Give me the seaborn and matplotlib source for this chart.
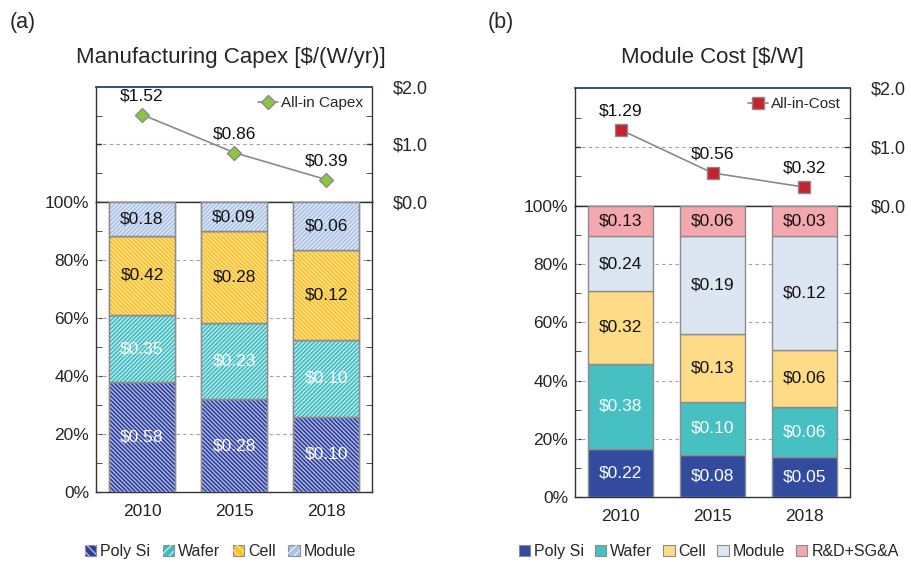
import numpy as np
import pandas as pd
import matplotlib.pyplot as plt
import seaborn as sns
from matplotlib.patches import Patch
from matplotlib.legend_handler import HandlerTuple
from matplotlib.ticker import MultipleLocator, FixedLocator, FuncFormatter

# Data
years = ['2010', '2015', '2018']

# (a) Manufacturing capex [$/(W/yr)]
capex_poly = [0.58, 0.28, 0.10]
capex_wafer = [0.35, 0.23, 0.10]
capex_cell = [0.42, 0.28, 0.12]
capex_module = [0.18, 0.09, 0.06]
capex_total = [1.52, 0.86, 0.39]
# segment heights in % (as drawn)
capex_poly_pct = [37.9, 32.0, 26.0]
capex_wafer_pct = [23.1, 26.4, 26.5]
capex_cell_pct = [27.4, 31.5, 31.1]
capex_module_pct = [11.6, 10.1, 16.4]

# (b) Module cost [$/W]
cost_poly = [0.22, 0.08, 0.05]
cost_wafer = [0.38, 0.10, 0.06]
cost_cell = [0.32, 0.13, 0.06]
cost_module = [0.24, 0.19, 0.12]
cost_rd = [0.13, 0.06, 0.03]
cost_total = [1.29, 0.56, 0.32]
cost_poly_pct = [16.6, 14.3, 13.7]
cost_wafer_pct = [29.2, 18.5, 17.3]
cost_cell_pct = [25.0, 23.3, 19.6]
cost_module_pct = [18.8, 33.5, 39.0]
cost_rd_pct = [10.4, 10.4, 10.4]

sns.set_style("ticks")
plt.rcParams['font.family'] = ['Liberation Sans', 'DejaVu Sans']
plt.rcParams['hatch.linewidth'] = 0.9

fig = plt.figure(figsize=(9.11, 5.62), dpi=100)

edge_gray = '#8c8c8c'
grid_kw = dict(color='#a0a0a0', linestyle=(0, (3, 3)), linewidth=0.8)


def draw_panel(rect_top, rect_bar, names, vals, pcts, colors, hatches, hatch_cols,
               txt_cols, total, marker, mcolor, msize, line_label):
    x = np.arange(len(years))
    ax_t = fig.add_axes(rect_top)
    ax_b = fig.add_axes(rect_bar)

    # stacked 100% bars
    bottom = np.zeros(len(years))
    for name, v, p, c, h, hc, tc in zip(names, vals, pcts, colors, hatches, hatch_cols, txt_cols):
        p = np.array(p)
        ax_b.bar(x, p, 0.71, bottom=bottom, color=c, edgecolor=edge_gray, linewidth=1.0, zorder=3)
        if h:
            ax_b.bar(x, p, 0.71, bottom=bottom, color='none', edgecolor=hc, linewidth=0, hatch=h, zorder=3)
            ax_b.bar(x, p, 0.71, bottom=bottom, color='none', edgecolor=edge_gray, linewidth=1.0, zorder=3)
        for xi, bi, pi, vi in zip(x, bottom, p, v):
            ax_b.text(xi, bi + pi / 2, f'${vi:.2f}', ha='center', va='center',
                      fontsize=12.5, color=tc, zorder=5)
        bottom = bottom + p

    ax_b.set_xlim(-0.5, 2.5)
    ax_b.set_ylim(0, 100)
    ax_b.set_xticks(x)
    ax_b.set_xticklabels(years, fontsize=12.5, color='#222222')
    ax_b.tick_params(axis='x', length=0, pad=9)
    ax_b.yaxis.set_major_locator(MultipleLocator(20))
    ax_b.yaxis.set_minor_locator(MultipleLocator(10))
    ax_b.yaxis.set_major_formatter(FuncFormatter(lambda v, _: f'{v:.0f}%'))
    ax_b.tick_params(axis='y', which='both', direction='in', right=True, length=4,
                     labelsize=12.5, pad=5, color='#333333')
    for gy in [20, 40, 60, 80]:
        ax_b.axhline(gy, zorder=1, **grid_kw)
    for s in ax_b.spines.values():
        s.set_color('#333333')
        s.set_linewidth(1.0)

    # top line panel
    df = pd.DataFrame({'x': x, 'total': total})
    sns.lineplot(data=df, x='x', y='total', ax=ax_t, color='#8a8a8a', linewidth=1.2,
                 marker=marker, markersize=msize, markerfacecolor=mcolor,
                 markeredgecolor='#8a8a8a', markeredgewidth=1.0, label=line_label, zorder=4)
    for xi, ti in zip(x, total):
        ax_t.annotate(f'${ti:.2f}', (xi, ti), xytext=(0, 8), textcoords='offset points',
                      ha='center', va='bottom', fontsize=12.5, color='#111111')
    ax_t.axhline(1.0, zorder=1, **grid_kw)
    ax_t.set_xlim(-0.5, 2.5)
    ax_t.set_ylim(0, 2)
    ax_t.set_xticks([])
    ax_t.set_xlabel('')
    ax_t.set_ylabel('')
    ax_t.yaxis.set_major_locator(FixedLocator([0, 1, 2]))
    ax_t.yaxis.set_minor_locator(FixedLocator([0.5, 1.5]))
    ax_t.yaxis.tick_right()
    ax_t.yaxis.set_major_formatter(FuncFormatter(lambda v, _: f'${v:.1f}'))
    ax_t.tick_params(axis='y', which='major', length=0, labelsize=13, pad=15)
    ax_t.tick_params(axis='y', which='minor', direction='in', left=True, right=True,
                     length=4, color='#333333')
    ax_t.tick_params(axis='y', which='major', left=False)
    for yy in [1.0]:
        ax_t.plot([-0.5, -0.45], [yy, yy], color='#333333', lw=1, clip_on=False)
        ax_t.plot([2.45, 2.5], [yy, yy], color='#333333', lw=1, clip_on=False)
    for s in ax_t.spines.values():
        s.set_color('#333333')
        s.set_linewidth(1.0)
    ax_t.spines['top'].set_color('#2a3c7d')
    ax_t.spines['top'].set_linewidth(1.3)
    ax_t.legend(loc='upper right', frameon=False, fontsize=11, handlelength=1.3,
                handletextpad=0.2, borderaxespad=0.2)
    return ax_t, ax_b


# (a)
a_names = ['Poly Si', 'Wafer', 'Cell', 'Module']
a_colors = ['#2f3f98', '#3fbcc0', '#f8c22c', '#a9c1e8']
a_hatches = ['\\' * 8, '/' * 8, '\\' * 8, '/' * 8]
a_hatch_cols = ['#b9c2ea', '#c8eeef', '#fde29a', '#e6edf9']
a_txt = ['white', 'white', '#111111', '#111111']
ta, ba = draw_panel([0.1054, 0.6406, 0.303, 0.2046], [0.1054, 0.1246, 0.303, 0.516],
                    a_names,
                    [capex_poly, capex_wafer, capex_cell, capex_module],
                    [capex_poly_pct, capex_wafer_pct, capex_cell_pct, capex_module_pct],
                    a_colors, a_hatches, a_hatch_cols, a_txt, capex_total,
                    'D', '#8cc63f', 7.5, 'All-in Capex')

# (b)
b_names = ['Poly Si', 'Wafer', 'Cell', 'Module', 'R&D+SG&A']
b_colors = ['#334b9f', '#47c0c2', '#fddb87', '#dce6f2', '#f4a7ad']
b_hatches = [None] * 5
b_hatch_cols = [None] * 5
b_txt = ['white', 'white', '#111111', '#111111', '#111111']
tb, bb = draw_panel([0.6312, 0.6335, 0.3019, 0.2099], [0.6312, 0.1157, 0.3019, 0.5178],
                    b_names,
                    [cost_poly, cost_wafer, cost_cell, cost_module, cost_rd],
                    [cost_poly_pct, cost_wafer_pct, cost_cell_pct, cost_module_pct, cost_rd_pct],
                    b_colors, b_hatches, b_hatch_cols, b_txt, cost_total,
                    's', '#c8202f', 8, 'All-in-Cost')

# titles and panel letters
fig.text(0.253, 0.898, 'Manufacturing Capex [$/(W/yr)]', ha='center', va='center', fontsize=16)
fig.text(0.782, 0.898, 'Module Cost [$/W]', ha='center', va='center', fontsize=16)
fig.text(0.011, 0.960, '(a)', ha='left', va='center', fontsize=15.5)
fig.text(0.535, 0.960, '(b)', ha='left', va='center', fontsize=15.5)

# bottom legends
a_handles = [(Patch(facecolor=c, edgecolor=edge_gray, lw=0.8),
              Patch(facecolor='none', edgecolor=hc, lw=0, hatch=h[:4]))
             for c, h, hc in zip(a_colors, a_hatches, a_hatch_cols)]
fig.legend(a_handles, a_names, loc='center', bbox_to_anchor=(0.242, 0.018), ncol=4,
           frameon=False, fontsize=11.5, handlelength=0.7, handleheight=0.7,
           handletextpad=0.25, columnspacing=0.8,
           handler_map={tuple: HandlerTuple(ndivide=1)})
b_handles = [Patch(facecolor=c, edgecolor=edge_gray, lw=0.8) for c in b_colors]
fig.legend(b_handles, b_names, loc='center', bbox_to_anchor=(0.778, 0.018), ncol=5,
           frameon=False, fontsize=11.5, handlelength=0.7, handleheight=0.7,
           handletextpad=0.25, columnspacing=0.7)

fig.savefig('out.png', dpi=100)
